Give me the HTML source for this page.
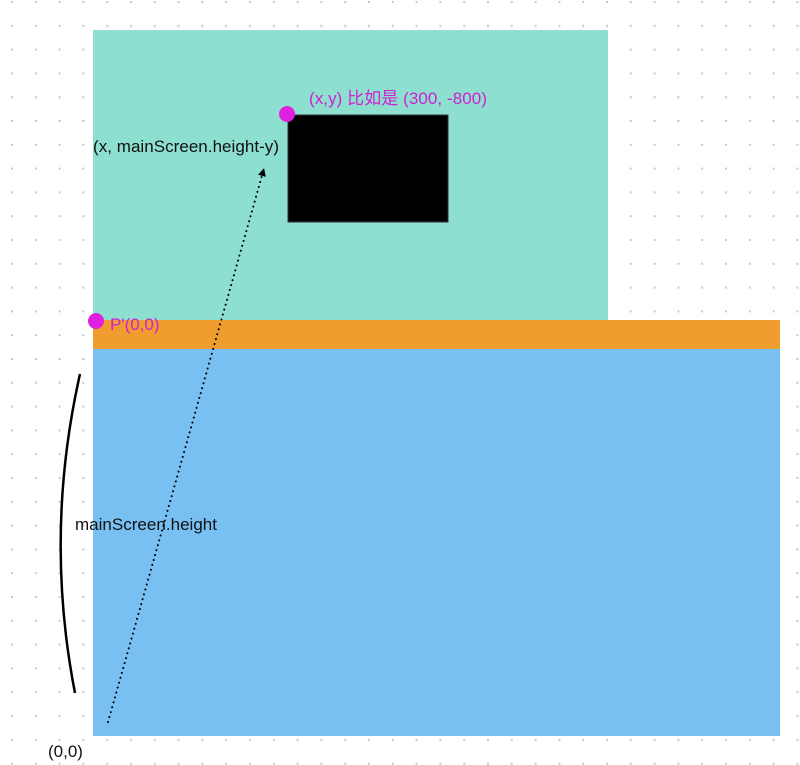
<!DOCTYPE html>
<html><head><meta charset="utf-8"><style>
body{margin:0;background:#fff;}
svg{display:block;font-family:"Liberation Sans","Noto Sans CJK SC",sans-serif;}
</style></head><body>
<svg width="800" height="765" viewBox="0 0 800 765">
<defs>
<pattern id="dots" x="11" y="1" width="23.8" height="23.8" patternUnits="userSpaceOnUse">
<rect x="0" y="0" width="2" height="2" fill="#c8c8c8"/>
</pattern>
<marker id="ah" markerWidth="8" markerHeight="8" refX="4" refY="4" orient="auto" markerUnits="userSpaceOnUse"><path d="M0,0 L8,4 L0,8 z" fill="#000"/></marker>
</defs>
<rect width="800" height="765" fill="url(#dots)"/>
<rect x="93" y="30" width="515" height="290" fill="#8ddfd0"/>
<rect x="93" y="320" width="687" height="29" fill="#f09d30"/>
<rect x="93" y="349" width="687" height="387" fill="#79c0f2"/>
<rect x="288" y="115" width="160" height="107" fill="#000" stroke="#333" stroke-width="1"/>
<circle cx="287" cy="114" r="8" fill="#e020e0"/>
<circle cx="96" cy="321" r="8" fill="#e020e0"/>
<text x="309" y="104" font-size="17" textLength="178" fill="#d020d0">(x,y) 比如是 (300, -800)</text>
<text x="110" y="330" font-size="17" fill="#d020d0">P'(0,0)</text>
<text x="93" y="152" font-size="17" textLength="186" fill="#111">(x, mainScreen.height-y)</text>
<text x="75" y="530" font-size="17" textLength="142" fill="#111">mainScreen.height</text>
<text x="48" y="757" font-size="17" fill="#111">(0,0)</text>
<line x1="108" y1="722" x2="263" y2="172" stroke="#000" stroke-width="2" stroke-linecap="round" stroke-dasharray="0.1,5" marker-end="url(#ah)"/>
<path d="M80,374 Q44,534 75,693" fill="none" stroke="#000" stroke-width="2.5"/>
</svg>
</body></html>
